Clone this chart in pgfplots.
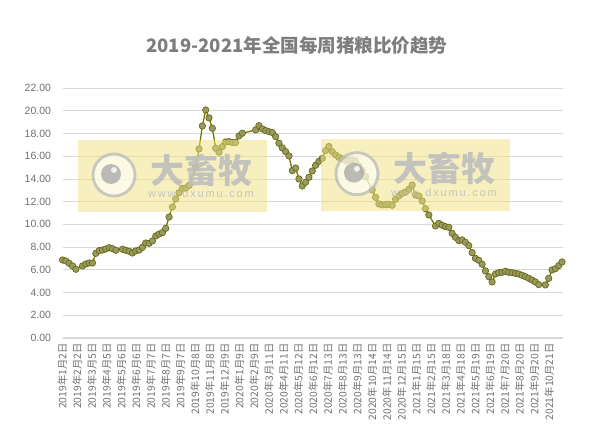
\documentclass[border=0pt]{standalone}
\usepackage{fontspec}
\setmainfont{Liberation Sans}
\newfontfamily\cjk{Noto Sans CJK SC}
\usepackage{pgfplots}
\pgfplotsset{compat=1.18}

\definecolor{gridc}{RGB}{217,217,217}
\definecolor{txtc}{RGB}{112,112,112}
\definecolor{titlec}{RGB}{125,125,125}
\definecolor{linec}{RGB}{122,122,0}
\definecolor{mfill}{RGB}{152,154,100}
\definecolor{medge}{RGB}{105,105,15}
\definecolor{wmbox}{RGB}{240,226,125}
\definecolor{wmgray}{RGB}{190,190,190}

% x = days since 2019-01-02 (weekly), y = pig/grain ratio
\pgfplotstableread{
day ratio
0 6.87
7 6.78
14 6.57
21 6.34
28 6.05
42 6.34
49 6.51
56 6.60
63 6.60
70 7.45
77 7.69
84 7.74
91 7.83
98 7.95
105 7.86
112 7.72
126 7.81
133 7.72
140 7.63
147 7.48
154 7.66
161 7.74
168 7.98
175 8.36
182 8.33
189 8.54
196 8.98
203 9.15
210 9.27
217 9.65
224 10.65
231 11.53
238 12.24
245 12.79
252 13.17
259 13.20
266 13.44
280 15.02
287 16.64
294 18.66
301 20.07
308 19.37
315 18.46
322 16.70
329 16.35
336 16.85
343 17.25
350 17.28
357 17.20
364 17.20
371 17.78
378 18.02
406 18.31
413 18.69
420 18.40
427 18.25
434 18.16
441 18.08
448 17.72
455 17.14
462 16.73
469 16.40
476 16.02
483 14.73
490 14.96
497 14.00
504 13.38
511 13.70
518 14.14
525 14.70
532 15.20
539 15.55
546 15.81
553 16.49
560 16.85
567 16.40
574 16.11
581 15.90
588 15.76
595 15.61
602 15.67
609 15.67
616 15.58
623 15.14
630 14.73
637 14.20
651 13.03
658 12.38
665 11.80
672 11.71
679 11.73
686 11.76
693 11.68
700 12.21
707 12.50
714 12.73
721 12.85
728 13.09
735 13.47
742 12.59
749 12.50
756 12.06
763 11.38
770 10.83
784 9.86
791 10.09
798 9.92
805 9.80
812 9.74
819 9.21
826 8.86
833 8.57
840 8.63
847 8.42
854 8.13
861 7.51
868 7.01
875 6.84
882 6.49
889 5.90
896 5.40
903 4.93
910 5.63
917 5.75
924 5.78
931 5.87
938 5.78
945 5.75
952 5.69
959 5.63
966 5.52
973 5.40
980 5.25
987 5.10
994 4.93
1001 4.70
1015 4.67
1022 5.25
1029 5.99
1036 6.10
1043 6.37
1050 6.69
}\ratiodata

\newcommand{\watermark}[2]{%
  \begin{scope}[shift={(#1,#2)}]
    \fill[wmbox, opacity=0.5] (0,0) rectangle (189bp,72bp);
    \draw[wmgray, line width=3bp, opacity=0.8] (36bp,37bp) circle (21bp);
    \fill[white, opacity=0.6] (36bp,37bp) circle (19.5bp);
    \fill[wmgray!85!black, opacity=0.7] (33bp,38bp) circle (10bp);
    \fill[white, opacity=0.8] (36bp,42bp) circle (3bp);
    \node[text=wmgray, opacity=0.9, font=\cjk\bfseries\fontsize{34bp}{36bp}\selectfont, inner sep=0]
      at (123bp,42bp) {大畜牧};
    \node[text=wmgray, opacity=0.9, font=\fontsize{11bp}{12bp}\selectfont, inner sep=0]
      at (123bp,18bp) {w\,w\,w\,.\,d\,x\,u\,m\,u\,.\,c\,o\,m};
  \end{scope}}

\begin{document}
\begin{tikzpicture}
\begin{axis}[
    scale only axis,
    width=500bp,
    height=250bp,
    xmin=0, xmax=1051,
    ymin=0, ymax=22,
    enlargelimits=false,
    clip=false,
    axis line style={draw=none},
    major tick length=0pt,
    ymajorgrids,
    grid style={gridc, line width=0.8bp},
    ytick={0,2,...,22},
    yticklabel style={
        /pgf/number format/fixed,
        /pgf/number format/fixed zerofill,
        /pgf/number format/precision=2,
        /pgf/number format/assume math mode=true,
        font=\fontsize{10.5bp}{12bp}\selectfont, text=txtc, xshift=-8bp},
    xtick={0,31,...,1023},
    xticklabels={2019年1月2日,2019年2月2日,2019年3月5日,2019年4月5日,2019年5月6日,2019年6月6日,2019年7月7日,2019年8月7日,2019年9月7日,2019年10月8日,2019年11月8日,2019年12月9日,2020年1月9日,2020年2月9日,2020年3月11日,2020年4月11日,2020年5月12日,2020年6月12日,2020年7月13日,2020年8月13日,2020年9月13日,2020年10月14日,2020年11月14日,2020年12月15日,2021年1月15日,2021年2月15日,2021年3月18日,2021年4月18日,2021年5月19日,2021年6月19日,2021年7月20日,2021年8月20日,2021年9月20日,2021年10月21日},
    xticklabel style={rotate=90, anchor=east, font=\cjk\fontsize{10.3bp}{12bp}\selectfont, text=txtc, xshift=-2bp},
]
\draw[gridc, line width=2.4bp] (rel axis cs:0,0) -- (rel axis cs:1,0);
\addplot[linec, line width=1.3bp, mark=*, mark size=3.2bp,
    mark options={fill=mfill, draw=medge, line width=0.7bp}]
    table[x=day, y=ratio] {\ratiodata};
\end{axis}
\watermark{15.5bp}{126bp}
\watermark{258.5bp}{127.3bp}
\node[text=titlec, font=\cjk\bfseries\fontsize{18.5bp}{20bp}\selectfont] at (234.3bp,293bp)
    {2019-2021年全国每周猪粮比价趋势};
\pgfresetboundingbox
\useasboundingbox (-62.5bp,-99bp) rectangle (550.5bp,338bp);
\end{tikzpicture}
\end{document}
